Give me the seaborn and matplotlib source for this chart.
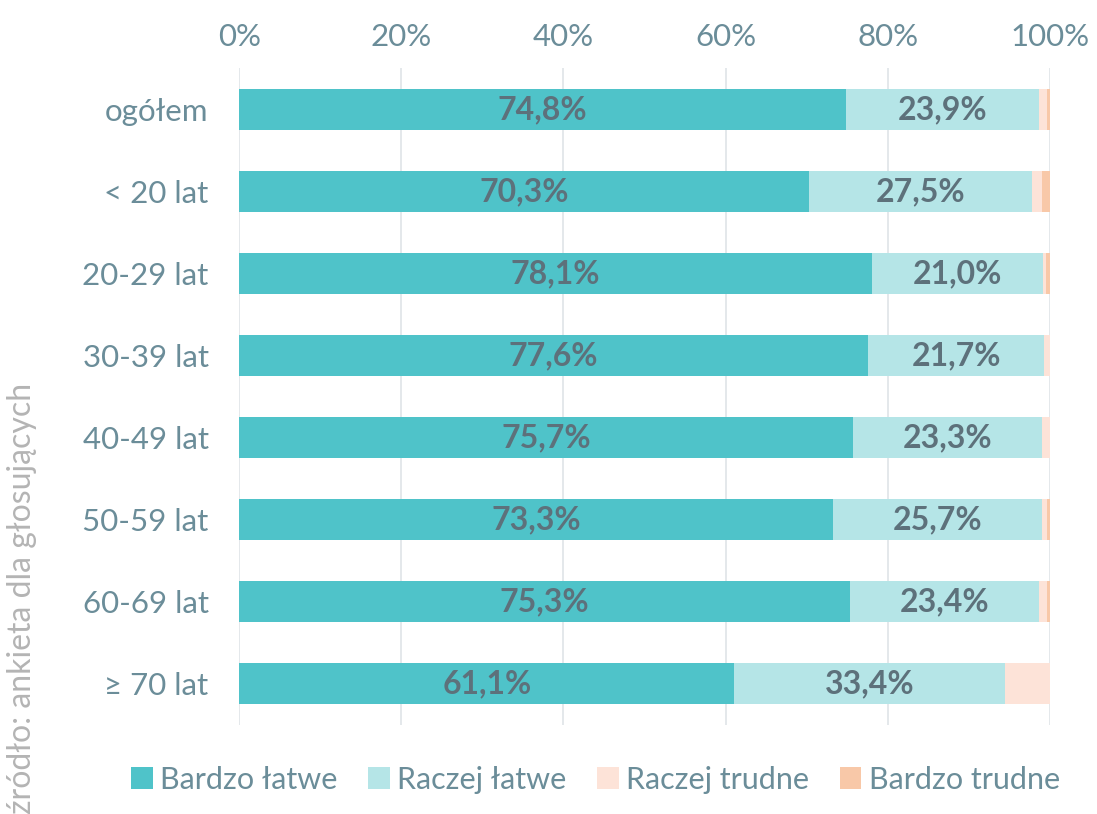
import numpy as np
import pandas as pd
import seaborn as sns
import matplotlib.pyplot as plt
from matplotlib.patches import Patch

# Data (percent)
groups = ['ogółem', '< 20 lat', '20-29 lat', '30-39 lat', '40-49 lat', '50-59 lat', '60-69 lat', '≥ 70 lat']
bardzo_latwe = [74.8, 70.3, 78.1, 77.6, 75.7, 73.3, 75.3, 61.1]
raczej_latwe = [23.9, 27.5, 21.0, 21.7, 23.3, 25.7, 23.4, 33.4]
raczej_trudne = [1.0, 1.2, 0.4, 0.7, 1.0, 0.7, 1.0, 5.5]
bardzo_trudne = [0.3, 1.0, 0.5, 0.0, 0.0, 0.3, 0.3, 0.0]

series = ['Bardzo łatwe', 'Raczej łatwe', 'Raczej trudne', 'Bardzo trudne']
colors = ['#4fc3c9', '#b5e5e7', '#fde3d8', '#f8c8a8']
text_col = '#6b8d99'
label_col = '#5d717b'

df = pd.DataFrame({'grupa': groups, 'Bardzo łatwe': bardzo_latwe, 'Raczej łatwe': raczej_latwe,
                   'Raczej trudne': raczej_trudne, 'Bardzo trudne': bardzo_trudne})
cum = df[series].cumsum(axis=1)

sns.set_style('white')
plt.rcParams['font.family'] = ['Lato', 'DejaVu Sans']

fig = plt.figure(figsize=(10.97, 8.14), dpi=100)
ax = fig.add_axes([0.218, 0.109, 0.739, 0.8075])

# stacked bars: draw cumulative totals from the outermost segment inward
for s, c in reversed(list(zip(series, colors))):
    sns.barplot(x=cum[s], y=df['grupa'], orient='h', color=c, width=0.5,
                saturation=1, linewidth=0, ax=ax)

# value labels for the first two segments
left = np.zeros(len(groups))
for s in series[:2]:
    for i, v in enumerate(df[s]):
        ax.text(left[i] + v / 2, i, f'{v:.1f}%'.replace('.', ','), ha='center', va='center',
                fontsize=23, fontweight='bold', color=label_col)
    left += df[s].values

ax.set_xlim(0, 100)
ax.set_ylim(len(groups) - 0.49, -0.51)
ax.set_xticks(np.arange(0, 101, 20))
ax.set_xticklabels([f'{t}%' for t in range(0, 101, 20)])
ax.xaxis.tick_top()
ax.grid(axis='x', color='#dfe4e7', linewidth=1.2)
ax.set_axisbelow(True)
for sp in ax.spines.values():
    sp.set_visible(False)
ax.tick_params(axis='both', length=0, labelsize=22.5, labelcolor=text_col)
ax.tick_params(axis='x', pad=12)
ax.tick_params(axis='y', pad=22)
ax.set_xlabel('')
ax.set_ylabel('')

handles = [Patch(facecolor=c, edgecolor='none') for c in colors]
fig.legend(handles, series, loc='center', bbox_to_anchor=(0.543, 0.042), ncol=4, frameon=False,
           fontsize=22, labelcolor=text_col, handlelength=0.7, handleheight=0.7,
           handletextpad=0.25, columnspacing=1.0)

fig.text(0.02, 0.0, 'źródło: ankieta dla głosujących', rotation=90, ha='center', va='bottom',
         fontsize=23, color='#b4b4b4')

fig.savefig('out.png', dpi=100)
